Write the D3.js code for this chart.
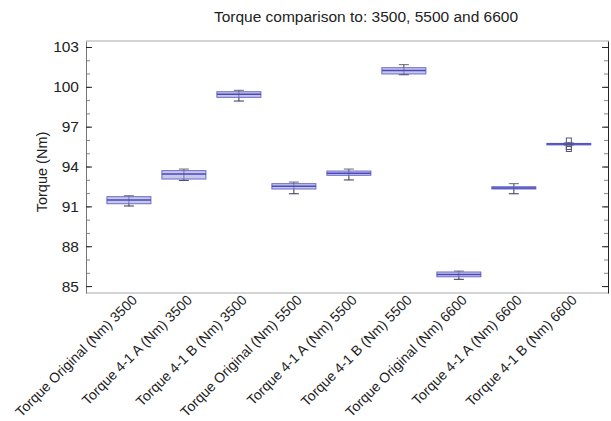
<!DOCTYPE html>
<html>
<head>
<meta charset="utf-8">
<script src="https://cdn.jsdelivr.net/npm/d3@7"></script>
<style>
  body { margin: 0; background: #fff; font-family: "Liberation Sans", Arial, sans-serif; }
</style>
</head>
<body>
<div id="chart"></div>
<script>
// box plot data
const categories = [
  "Torque Original (Nm) 3500", "Torque 4-1 A (Nm) 3500", "Torque 4-1 B (Nm) 3500",
  "Torque Original (Nm) 5500", "Torque 4-1 A (Nm) 5500", "Torque 4-1 B (Nm) 5500",
  "Torque Original (Nm) 6600", "Torque 4-1 A (Nm) 6600", "Torque 4-1 B (Nm) 6600"
];
const whiskerLow  = [91.03, 92.96, 98.93, 91.95, 92.99, 100.91, 85.51, 91.95, 95.62];
const q1          = [91.20, 93.06, 99.21, 92.31, 93.34, 100.97, 85.70, 92.31, 95.66];
const median      = [91.48, 93.44, 99.44, 92.51, 93.49, 101.22, 85.88, 92.38, 95.70];
const q3          = [91.73, 93.69, 99.63, 92.71, 93.66, 101.44, 86.06, 92.48, 95.74];
const whiskerHigh = [91.80, 93.81, 99.74, 92.83, 93.81, 101.67, 86.13, 92.71, 95.78];
const outliers    = [[], [], [], [], [], [], [], [], [95.96, 95.47, 95.32]];
const yTicks = [85, 88, 91, 94, 97, 100, 103];

const width = 611, height = 421;
const margin = { top: 41, right: 2, bottom: 128, left: 86 };

const svg = d3.select("#chart").append("svg")
  .attr("width", width)
  .attr("height", height);

const x = d3.scaleLinear()
  .domain([-0.78, 8.73])
  .range([margin.left, width - margin.right]);

const y = d3.scaleLinear()
  .domain([84.48, 103.45])
  .range([height - margin.bottom, margin.top]);

const minorTicks = d3.range(85, 104, 1);

// frame (top and bottom grey)
svg.append("line")
  .attr("x1", margin.left).attr("x2", width - margin.right)
  .attr("y1", margin.top).attr("y2", margin.top)
  .attr("stroke", "#d4d4d4").attr("stroke-width", 2);
svg.append("line")
  .attr("x1", margin.left).attr("x2", width - margin.right)
  .attr("y1", height - margin.bottom).attr("y2", height - margin.bottom)
  .attr("stroke", "#d4d4d4").attr("stroke-width", 2);

// left axis
const left = svg.append("g")
  .attr("transform", `translate(${margin.left},0)`);
left.append("g")
  .call(d3.axisLeft(y).tickValues(minorTicks).tickSize(-4).tickFormat(""))
  .call(g => g.select(".domain").remove())
  .call(g => g.selectAll("line").attr("stroke", "#888"));
left.append("g")
  .call(d3.axisLeft(y).tickValues(yTicks).tickSizeInner(-6).tickSizeOuter(0).tickPadding(7))
  .call(g => g.select(".domain").attr("stroke", "#777"))
  .call(g => g.selectAll("line").attr("stroke", "#222"))
  .call(g => g.selectAll("text")
    .attr("font-size", 15.5)
    .attr("font-family", "Liberation Sans, Arial, sans-serif")
    .attr("fill", "#222"));

// right axis (mirrored ticks, no labels)
const right = svg.append("g")
  .attr("transform", `translate(${width - margin.right - 1},0)`);
right.append("g")
  .call(d3.axisRight(y).tickValues(minorTicks).tickSize(-4).tickFormat(""))
  .call(g => g.select(".domain").remove())
  .call(g => g.selectAll("line").attr("stroke", "#888"));
right.append("g")
  .call(d3.axisRight(y).tickValues(yTicks).tickSizeInner(-6).tickSizeOuter(0).tickFormat(""))
  .call(g => g.select(".domain").attr("stroke", "#222"))
  .call(g => g.selectAll("line").attr("stroke", "#222"));

// boxes
const boxW = 44;
const boxes = svg.append("g")
  .selectAll("g")
  .data(categories)
  .enter().append("g")
  .attr("transform", (d, i) => `translate(${x(i)},0)`);

boxes.append("line")
  .attr("x1", 0).attr("x2", 0)
  .attr("y1", (d, i) => y(whiskerLow[i]))
  .attr("y2", (d, i) => y(whiskerHigh[i]))
  .attr("stroke", "#333355");

boxes.append("line")
  .attr("x1", -5).attr("x2", 5)
  .attr("y1", (d, i) => y(whiskerLow[i]))
  .attr("y2", (d, i) => y(whiskerLow[i]))
  .attr("stroke", "#333355");
boxes.append("line")
  .attr("x1", -5).attr("x2", 5)
  .attr("y1", (d, i) => y(whiskerHigh[i]))
  .attr("y2", (d, i) => y(whiskerHigh[i]))
  .attr("stroke", "#666677");

boxes.append("rect")
  .attr("x", -boxW / 2)
  .attr("width", boxW)
  .attr("y", (d, i) => y(q3[i]))
  .attr("height", (d, i) => Math.max(1.5, y(q1[i]) - y(q3[i])))
  .attr("fill", "#a4a4dc")
  .attr("fill-opacity", 0.6)
  .attr("stroke", "#6a6ac8")
  .attr("stroke-width", 1);

boxes.append("line")
  .attr("x1", -boxW / 2).attr("x2", boxW / 2)
  .attr("y1", (d, i) => y(median[i]))
  .attr("y2", (d, i) => y(median[i]))
  .attr("stroke", "#4848c0")
  .attr("stroke-width", 1.5);

boxes.selectAll("rect.outlier")
  .data((d, i) => outliers[i])
  .enter().append("rect")
  .attr("class", "outlier")
  .attr("x", -2.5)
  .attr("y", v => y(v) - 2.5)
  .attr("width", 5)
  .attr("height", 5)
  .attr("fill", "none")
  .attr("stroke", "#555577");

// x labels
svg.append("g")
  .selectAll("text")
  .data(categories)
  .enter().append("text")
  .attr("transform", (d, i) => `translate(${x(i) + 9},${height - margin.bottom + 8}) rotate(-45)`)
  .attr("text-anchor", "end")
  .attr("font-size", 14)
  .attr("fill", "#222")
  .text(d => d);

// y title
svg.append("text")
  .attr("transform", `translate(47,${(margin.top + height - margin.bottom) / 2 + 5}) rotate(-90)`)
  .attr("text-anchor", "middle")
  .attr("font-size", 14.5)
  .attr("fill", "#222")
  .text("Torque (Nm)");

// title
svg.append("text")
  .attr("x", 366)
  .attr("y", 22)
  .attr("text-anchor", "middle")
  .attr("font-size", 15.5)
  .attr("fill", "#222")
  .text("Torque comparison to: 3500, 5500 and 6600");
</script>
</body>
</html>
